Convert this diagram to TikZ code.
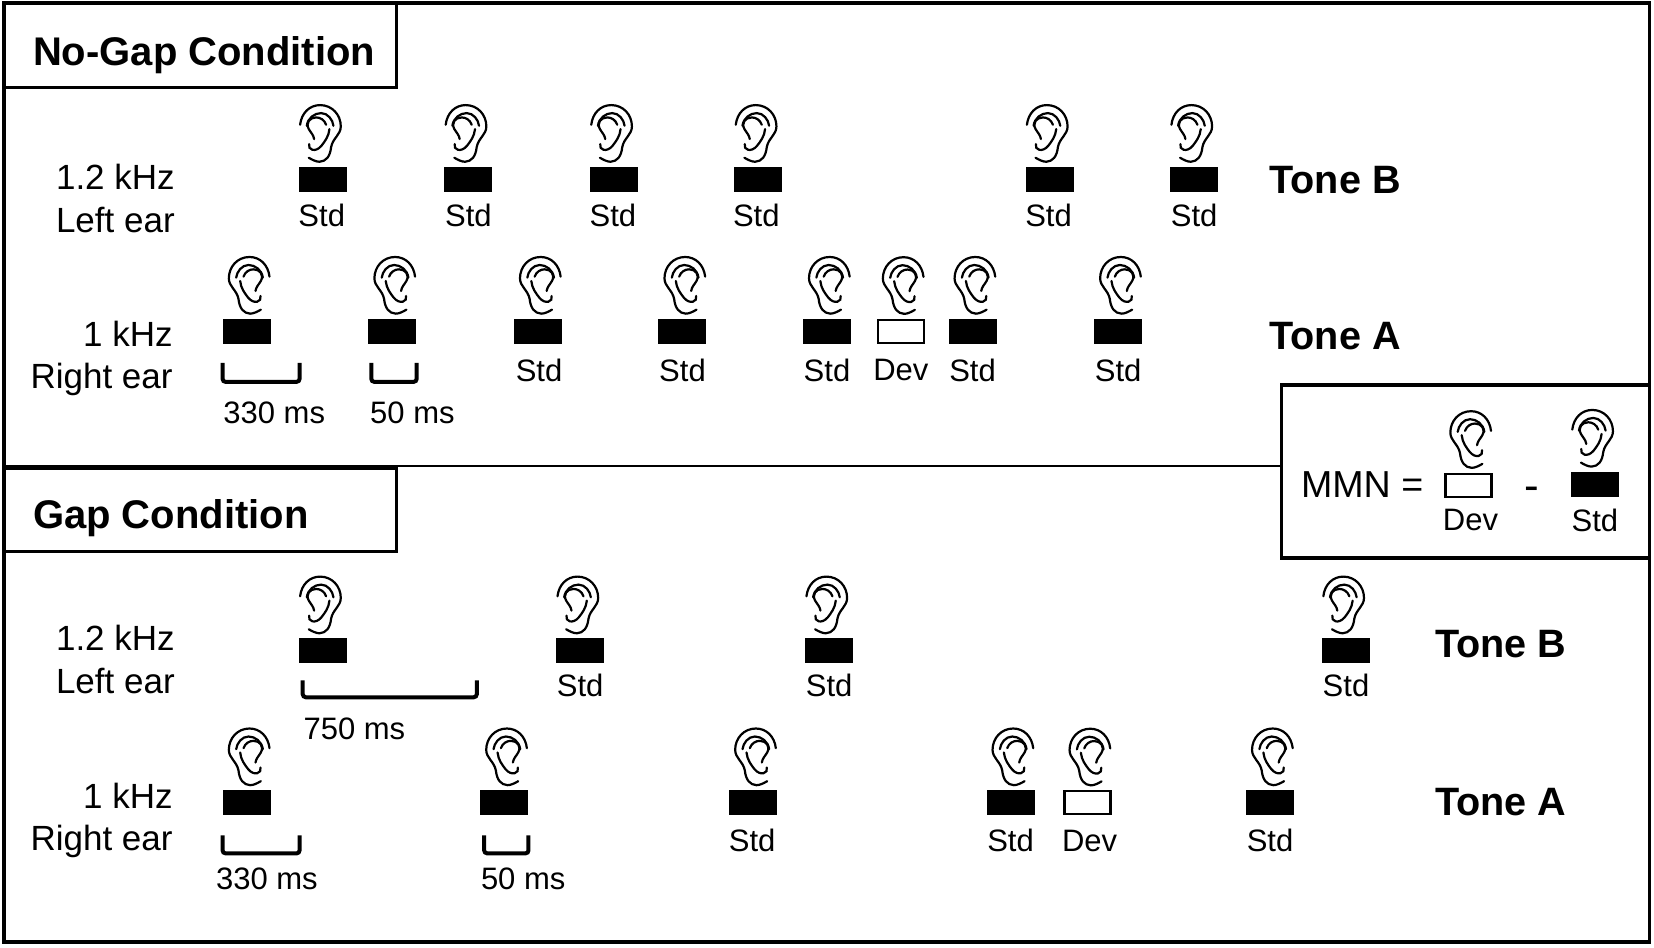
\documentclass[tikz,border=0pt]{standalone}
\usepackage{fontspec}
\setmainfont{Liberation Sans}
\begin{document}
\begin{tikzpicture}[x=0.5274pt,y=0.5274pt,
   marco/.style={line width=1.6pt,draw=black},
   titulo/.style={anchor=west,inner sep=0pt,font=\fontsize{20}{24}\bfseries\selectfont},
   tono/.style={anchor=west,inner sep=0pt,font=\fontsize{19.8}{23}\bfseries\selectfont},
   oido/.style={anchor=east,inner sep=0pt,font=\fontsize{17.5}{20}\selectfont},
   etiq/.style={font=\fontsize{15.5}{18}\selectfont},
   estd/.style={fill=black,minimum width=24pt,minimum height=12.5pt,inner sep=0pt},
   edev/.style={draw=black,fill=white,line width=1.2pt,minimum width=23pt,minimum height=11.5pt,inner sep=0pt},
   llave/.style={line width=2pt,rounded corners=1.5pt},
   derecho/.style={xscale=-1},
   ear/.pic={
     \begin{scope}[scale=0.316,line width=1.1pt,line cap=round]
       \draw (-68,125) .. controls (-64,160) and (-40,184) .. (-8,184) .. controls (28,184) and (54,155) .. (54,120)
         .. controls (54,95) and (30,85) .. (25,58) .. controls (22,30) and (10,15) .. (-10,14) .. controls (-20,14) and (-32,20) .. (-42,26);
       \draw (-48,122) .. controls (-45,145) and (-25,160) .. (-5,160) .. controls (15,160) and (30,140) .. (32,122);
       \draw (10,125) .. controls (5,140) and (-8,147) .. (-20,147) .. controls (-40,147) and (-52,130) .. (-42,112)
         .. controls (-35,100) and (-28,95) .. (-26,82);
       \draw (-41,67) .. controls (-46,50) and (-22,40) .. (-4,62) .. controls (6,75) and (18,90) .. (20,112);
     \end{scope}}]
  \useasboundingbox (0,0) rectangle (1568,-898);
  % marco exterior
  \draw[marco] (3.8,-2.8) rectangle (1564,-893);
  \draw[line width=1pt] (3.8,-442) -- (1214,-442);
  % titulos
  \draw[marco,fill=white] (3.8,-2.8) rectangle (375.5,-83);
  \node[titulo] (tnogap) at (31,-52) {No-Gap Condition};
  \draw[marco,fill=white] (3.8,-444) rectangle (375.5,-523);
  \node[titulo] (tgap) at (31,-491) {Gap Condition};
  % --- sin pausa, 1.2 kHz ---
  \node[oido] (na) at (166,-168) {1.2 kHz};
  \node[oido] (nb) at (166,-209) {Left ear};
  \node[tono] (tb) at (1203,-171) {Tone B};
  \foreach \i/\x/\e in {a/306/305,b/444/444,c/582/581,d/719/717,e/995/994,f/1132/1132} {
    \node[estd] (p\i) at (\x,-170) {};
    \pic at (p\i.north) {ear};
    \node[etiq] (lp\i) at (\e,-204) {Std};
  }
  % --- sin pausa, 1 kHz ---
  \node[oido] (nc) at (164,-316) {1 kHz};
  \node[oido] (nd) at (164,-360) {Right ear};
  \node[tono] (ta) at (1203,-319) {Tone A};
  \foreach \i/\x in {a/234,b/372,c/510,d/647,e/784,f/922,g/1060} {
    \node[estd] (q\i) at (\x,-314) {};
    \pic[derecho] at (q\i.north) {ear};
  }
  \node[edev] (qdev) at (854,-314) {};
  \pic[derecho] at (qdev.north) {ear};
  \foreach \i/\x in {c/511,d/647,e/784,f/922,g/1060}
    \node[etiq] (lq\i) at (\x,-351) {Std};
  \node[etiq] (lqdev) at (854,-351) {Dev};
  \draw[llave] (211,-344) -- (211,-362) -- (284,-362) -- (284,-344);
  \draw[llave] (352,-344) -- (352,-362) -- (395,-362) -- (395,-344);
  \node[etiq] (m330) at (260,-391) {330 ms};
  \node[etiq] (m50) at (391,-391) {50 ms};
  % --- con pausa, 1.2 kHz ---
  \node[oido] (ne) at (166,-605) {1.2 kHz};
  \node[oido] (nf) at (166,-646) {Left ear};
  \node[tono] (tbg) at (1360,-611) {Tone B};
  \foreach \i/\x in {a/306,b/550,c/786,d/1276} {
    \node[estd] (r\i) at (\x,-617) {};
    \pic at (r\i.north) {ear};
  }
  \foreach \i/\x in {b/550,c/786,d/1276}
    \node[etiq] (lr\i) at (\x,-650) {Std};
  \draw[llave] (287,-645) -- (287,-661) -- (452,-661) -- (452,-645);
  \node[etiq] (m750) at (336,-691) {750 ms};
  % --- con pausa, 1 kHz ---
  \node[oido] (ng) at (164,-754) {1 kHz};
  \node[oido] (nh) at (164,-798) {Right ear};
  \node[tono] (tag) at (1360,-760) {Tone A};
  \foreach \i/\x in {a/234,b/478,c/714,d/958,e/1204} {
    \node[estd] (s\i) at (\x,-761) {};
    \pic[derecho] at (s\i.north) {ear};
  }
  \node[edev] (sdev) at (1031,-761) {};
  \pic[derecho] at (sdev.north) {ear};
  \foreach \i/\x in {c/713,d/958,e/1204}
    \node[etiq] (ls\i) at (\x,-797) {Std};
  \node[etiq] (lsdev) at (1033,-797) {Dev};
  \draw[llave] (211,-792) -- (211,-809) -- (284,-809) -- (284,-792);
  \draw[llave] (459,-792) -- (459,-809) -- (501,-809) -- (501,-792);
  \node[etiq] (n330) at (253,-833) {330 ms};
  \node[etiq] (n50) at (496,-833) {50 ms};
  % --- MMN ---
  \draw[marco,fill=white] (1214.5,-365) rectangle (1564,-529);
  \node[anchor=west,inner sep=0pt,font=\fontsize{18.8}{22}\selectfont] (mmn) at (1233,-459) {MMN =};
  \node[edev] (mdev) at (1392,-460) {};
  \pic[derecho] at (mdev.north) {ear};
  \node[etiq] (ldev) at (1394,-493) {Dev};
  \node[etiq,font=\fontsize{22}{26}\selectfont] (menos) at (1452,-468) {-};
  \node[estd] (mstd) at (1512,-459) {};
  \pic at (mstd.north) {ear};
  \node[etiq] (lstd) at (1512,-493) {Std};
\end{tikzpicture}
\end{document}
